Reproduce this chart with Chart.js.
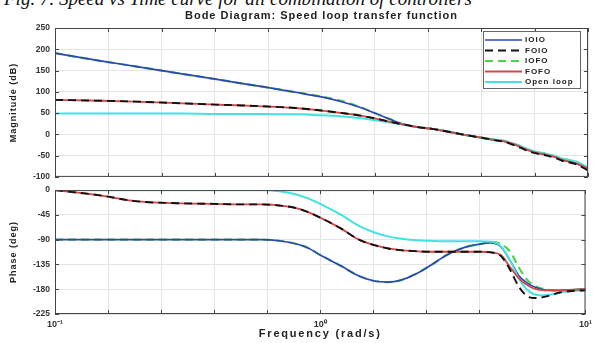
<!DOCTYPE html>
<html>
<head>
<meta charset="utf-8">
<script src="https://cdn.jsdelivr.net/npm/chart.js@4.4.1/dist/chart.umd.min.js"></script>
<style>
  body { margin: 0; background: #fff; width: 597px; height: 343px; overflow: hidden; position: relative; }
  #caption { position: absolute; left: 4px; top: -11px; font: italic 19px "Liberation Serif", serif; line-height: 19px; white-space: nowrap; color: #111; }
  canvas { position: absolute; left: 0; }
  #mag { top: 0; }
  #phase { top: 180px; }
</style>
</head>
<body>
<div id="caption">Fig. 7. Speed vs Time curve for all combination of controllers</div>
<canvas id="mag" width="597" height="187"></canvas>
<canvas id="phase" width="597" height="163"></canvas>
<script>
// частоты (rad/s)
const freq = [0.1, 0.15, 0.2, 0.3, 0.4, 0.5, 0.6, 0.7, 0.8, 0.9, 1.0, 1.2, 1.4, 1.6, 1.8, 2.0,
              2.3, 2.6, 3.0, 3.5, 4.0, 4.4, 4.8, 5.2, 5.6, 6.0, 6.5, 7.0, 7.5, 8.0, 9.0, 10];

// Magnitude (dB)
const magIOIO = [191, 172, 160, 142, 130, 120, 112, 105, 99, 93, 88, 76, 63, 49, 36, 25,
                 17, 13, 6, -2, -8, -13, -16, -22, -30, -38, -44, -48, -53, -60, -68, -83];
const magFOIO = [81, 79, 77, 73, 70, 68, 66, 64, 62, 59, 56, 50, 44, 37, 30, 24,
                 17, 13, 6, -2, -8, -13, -17, -24, -32, -40, -46, -50, -55, -62, -70, -85];
const magIOFO = [191, 172, 160, 142, 130, 120, 112, 105, 99, 94, 89, 78, 64, 49, 36, 25,
                 17, 13, 6, -2, -8, -12, -15, -21, -28, -36, -42, -46, -51, -57, -64, -78];
const magFOFO = [81, 79, 77, 73, 70, 68, 66, 64, 62, 59, 56, 50, 44, 37, 30, 24,
                 17, 13, 6, -2, -8, -13, -16, -22, -30, -38, -44, -48, -53, -60, -68, -80];
const magOpen = [49, 49, 49, 49, 48, 48, 48, 47, 47, 46, 45, 42, 38, 33, 28, 23,
                 17, 13, 6, -2, -8, -12, -15, -21, -28, -36, -42, -46, -51, -57, -64, -78];

// Phase (deg)
const phIOIO = [-90, -90, -90, -90, -90, -90, -90, -92, -97, -105, -118, -138, -156, -165, -167, -164,
                -152, -137, -118, -104, -98, -96, -103, -128, -155, -168, -177, -181, -182, -182, -181, -180];
const phFOIO = [0, -10, -20, -24, -25, -26, -26, -28, -32, -40, -50, -70, -90, -100, -106, -109,
                -111, -112, -112, -112, -112, -113, -120, -145, -175, -192, -196, -194, -190, -186, -183, -182];
const phIOFO = [-90, -90, -90, -90, -90, -90, -90, -92, -97, -105, -118, -138, -156, -165, -167, -164,
                -152, -137, -118, -104, -98, -94, -98, -112, -140, -162, -175, -180, -182, -182, -181, -180];
const phFOFO = [0, -10, -20, -24, -25, -26, -26, -28, -32, -40, -50, -70, -90, -100, -106, -109,
                -111, -112, -112, -112, -112, -113, -118, -140, -160, -172, -180, -182, -182, -182, -181, -180];
const phOpen = [0, 0, 0, 0, 0, 0, 0, -2, -7, -15, -25, -45, -65, -77, -84, -88,
                -91, -92, -93, -93, -93, -94, -102, -128, -160, -180, -190, -191, -189, -186, -183, -182];

// деления оси X (равномерно по 0.2 декады)
const xTicks = [0.1, 0.1585, 0.2512, 0.3981, 0.631, 1, 1.585, 2.512, 3.981, 6.31, 10];
const xTickLabels = { 0.1: '10\u207B\u00B9', 1: '10\u2070', 10: '10\u00B9' };
const magTicks = [250, 200, 150, 100, 50, 0, -50, -100];
const phaseTicks = [0, -45, -90, -135, -180, -225];

const names = ['IOIO', 'FOIO', 'IOFO', 'FOFO', 'Open loop'];
const styles = [
    { color: '#2f45b5', width: 1.7, dash: [] },
    { color: '#111111', width: 1.9, dash: [8, 5] },
    { color: '#4cd44c', width: 2.2, dash: [8, 5] },
    { color: '#d64545', width: 1.8, dash: [] },
    { color: '#45e2e2', width: 2, dash: [] },
];
const drawOrder = [3, 0, 4, 1, 2]; // меньше = поверх

const FONT = '"Liberation Sans", Arial, sans-serif';

function makeDatasets(series) {
    return series.map((vals, i) => ({
        label: names[i],
        data: freq.map((f, k) => ({ x: f, y: vals[k] })),
        borderColor: styles[i].color,
        borderWidth: styles[i].width,
        borderDash: styles[i].dash,
        pointRadius: 0,
        fill: false,
        cubicInterpolationMode: 'monotone',
        order: drawOrder[i],
    }));
}

function spacedText(ctx, text, x, y, font, spacing, rotate) {
    ctx.save();
    ctx.font = font;
    ctx.letterSpacing = spacing + 'px';
    ctx.fillStyle = '#222';
    ctx.textAlign = 'center';
    ctx.textBaseline = 'middle';
    ctx.translate(x, y);
    if (rotate) ctx.rotate(-Math.PI / 2);
    ctx.fillText(text, 0, 0);
    ctx.restore();
}

// рамка осей с внутренними засечками, как в MATLAB
const boxPlugin = {
    id: 'box',
    afterDatasetsDraw(chart) {
        const a = chart.chartArea, ctx = chart.ctx;
        const xs = chart.scales.x, ys = chart.scales.y;
        ctx.save();
        ctx.strokeStyle = '#444';
        ctx.lineWidth = 1;
        ctx.strokeRect(a.left + 0.5, a.top + 0.5, a.right - a.left - 1, a.bottom - a.top - 1);
        ctx.beginPath();
        xs.ticks.forEach(t => {
            const px = Math.round(xs.getPixelForValue(t.value)) + 0.5;
            ctx.moveTo(px, a.top); ctx.lineTo(px, a.top + 4);
            ctx.moveTo(px, a.bottom); ctx.lineTo(px, a.bottom - 4);
        });
        ys.ticks.forEach(t => {
            const py = Math.round(ys.getPixelForValue(t.value)) + 0.5;
            ctx.moveTo(a.left, py); ctx.lineTo(a.left + 4, py);
            ctx.moveTo(a.right, py); ctx.lineTo(a.right - 4, py);
        });
        ctx.stroke();
        ctx.restore();
    }
};

// подписи осей и заголовок рисуем сами (нужен межбуквенный интервал)
const labelsPlugin = {
    id: 'axisLabels',
    afterDraw(chart, args, opts) {
        const a = chart.chartArea, ctx = chart.ctx;
        const cx = (a.left + a.right) / 2;
        spacedText(ctx, opts.yLabel, 13.5, (a.top + a.bottom) / 2, 'bold 9px ' + FONT, 1, true);
        if (opts.title) spacedText(ctx, opts.title, cx, 15.5, 'bold 11px ' + FONT, 1, false);
        if (opts.xLabel) spacedText(ctx, opts.xLabel, cx, a.bottom + 20, 'bold 11px ' + FONT, 1.8, false);
    }
};

const legendPlugin = {
    id: 'boxLegend',
    afterDraw(chart) {
        const ctx = chart.ctx;
        const x0 = 483, y0 = 31, w = 97, h = 57;
        ctx.save();
        ctx.fillStyle = '#fff';
        ctx.fillRect(x0, y0, w, h);
        ctx.strokeStyle = '#666';
        ctx.lineWidth = 1;
        ctx.strokeRect(x0 + 0.5, y0 + 0.5, w, h);
        ctx.font = 'bold 8px ' + FONT;
        ctx.letterSpacing = '1px';
        ctx.textBaseline = 'middle';
        names.forEach((n, i) => {
            const y = y0 + 9 + i * 10.5;
            ctx.strokeStyle = styles[i].color;
            ctx.lineWidth = styles[i].width;
            ctx.setLineDash(styles[i].dash);
            ctx.beginPath();
            ctx.moveTo(x0 + 2, y);
            ctx.lineTo(x0 + 39, y);
            ctx.stroke();
            ctx.setLineDash([]);
            ctx.fillStyle = '#222';
            ctx.fillText(n, x0 + 42, y);
        });
        ctx.restore();
    }
};

const gridColor = '#e4e4e4';

function xScale(showLabels) {
    return {
        type: 'logarithmic',
        min: 0.1,
        max: 10,
        afterBuildTicks: s => { s.ticks = xTicks.map(v => ({ value: v })); },
        afterFit: s => { s.height = showLabels ? 29 : 0; },
        grid: { color: gridColor, drawTicks: false },
        border: { display: false },
        ticks: {
            display: showLabels,
            autoSkip: false,
            maxRotation: 0,
            padding: 5,
            color: '#333',
            font: { family: FONT, size: 9, weight: 'bold' },
            callback: v => xTickLabels[v] || '',
        },
    };
}

function yScale(min, max, ticks) {
    return {
        min: min,
        max: max,
        afterBuildTicks: s => { s.ticks = ticks.map(v => ({ value: v })); },
        afterFit: s => { s.width = 55; },
        grid: { color: gridColor, drawTicks: false },
        border: { display: false },
        ticks: { color: '#333', font: { family: FONT, size: 8.5, weight: 'bold' }, padding: 5 },
    };
}

new Chart(document.getElementById('mag'), {
    type: 'line',
    data: { datasets: makeDatasets([magIOIO, magFOIO, magIOFO, magFOFO, magOpen]) },
    options: {
        responsive: false,
        animation: false,
        layout: { padding: { top: 28, right: 9, bottom: 3, left: 0 } },
        plugins: {
            legend: { display: false },
            tooltip: { enabled: false },
            axisLabels: { yLabel: 'Magnitude (dB)', title: 'Bode Diagram: Speed loop transfer function' },
        },
        scales: { x: xScale(false), y: yScale(-100, 250, magTicks) },
    },
    plugins: [boxPlugin, labelsPlugin, legendPlugin],
});

new Chart(document.getElementById('phase'), {
    type: 'line',
    data: { datasets: makeDatasets([phIOIO, phFOIO, phIOFO, phFOFO, phOpen]) },
    options: {
        responsive: false,
        animation: false,
        layout: { padding: { top: 4, right: 9, bottom: 0, left: 0 } },
        plugins: {
            legend: { display: false },
            tooltip: { enabled: false },
            axisLabels: { yLabel: 'Phase (deg)', xLabel: 'Frequency (rad/s)' },
        },
        scales: { x: xScale(true), y: yScale(-225, 0, phaseTicks) },
    },
    plugins: [boxPlugin, labelsPlugin],
});
</script>
</body>
</html>
